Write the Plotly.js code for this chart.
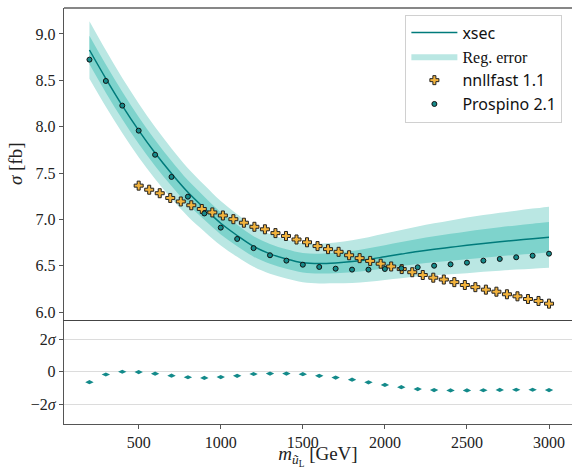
<!DOCTYPE html>
<html><head><meta charset="utf-8">
<script src="https://cdn.plot.ly/plotly-3.0.1.min.js"></script>
<style>html,body{margin:0;padding:0;background:#fff}#chart{width:572px;height:469px}</style>
</head><body><div id="chart"></div>
<script>
// mass grid (GeV) for xsec, band and Prospino
const massGrid = [200,300,400,500,600,700,800,900,1000,1100,1200,1300,1400,1500,1600,1700,1800,1900,2000,2100,2200,2300,2400,2500,2600,2700,2800,2900,3000];
// regression mean (fb)
const xsecMean = [8.827,8.519,8.228,7.960,7.716,7.495,7.292,7.120,6.958,6.826,6.708,6.628,6.572,6.532,6.523,6.530,6.545,6.568,6.597,6.626,6.654,6.678,6.699,6.720,6.740,6.759,6.776,6.792,6.807];
// regression 1-sigma error (fb)
const regSigma = [0.155,0.152,0.148,0.145,0.140,0.135,0.130,0.125,0.120,0.115,0.110,0.107,0.105,0.105,0.107,0.110,0.115,0.120,0.125,0.130,0.135,0.140,0.145,0.150,0.153,0.156,0.159,0.162,0.165];
// Prospino 2.1 (fb)
const prospinoXsec = [8.723,8.493,8.227,7.957,7.697,7.458,7.245,7.064,6.911,6.789,6.690,6.613,6.555,6.511,6.487,6.468,6.458,6.458,6.465,6.472,6.483,6.500,6.515,6.533,6.555,6.573,6.591,6.608,6.630];
// nnllfast 1.1
const nnllMass = [500,564.1,628.2,692.3,756.4,820.5,884.6,948.7,1012.8,1076.9,1141.0,1205.1,1269.2,1333.3,1397.4,1461.5,1525.6,1589.7,1653.8,1717.9,1782.1,1846.2,1910.3,1974.4,2038.5,2102.6,2166.7,2230.8,2294.9,2359.0,2423.1,2487.2,2551.3,2615.4,2679.5,2743.6,2807.7,2871.8,2935.9,3000];
const nnllXsec = [7.364,7.320,7.282,7.231,7.193,7.152,7.112,7.075,7.042,7.002,6.964,6.920,6.893,6.852,6.821,6.783,6.753,6.712,6.679,6.650,6.613,6.582,6.552,6.522,6.492,6.464,6.430,6.400,6.371,6.351,6.323,6.292,6.269,6.242,6.220,6.192,6.170,6.141,6.120,6.091];
// pull (Prospino - xsec) in units of sigma
const pullValues = [-0.64,-0.17,0.00,-0.02,-0.12,-0.24,-0.34,-0.38,-0.33,-0.25,-0.14,-0.11,-0.11,-0.15,-0.25,-0.36,-0.49,-0.65,-0.81,-0.95,-1.07,-1.13,-1.15,-1.15,-1.14,-1.12,-1.11,-1.11,-1.13];
const topTicks = [6.0,6.5,7.0,7.5,8.0,8.5,9.0];
const pullTicks = [-2,0,2];
const pullTickText = ['\u22122<i>\u03c3</i>','0','2<i>\u03c3</i>'];
const massTicks = [500,1000,1500,2000,2500,3000];

const lo2 = xsecMean.map((m,i)=>m-2*regSigma[i]);
const hi2 = xsecMean.map((m,i)=>m+2*regSigma[i]);
const lo1 = xsecMean.map((m,i)=>m-regSigma[i]);
const hi1 = xsecMean.map((m,i)=>m+regSigma[i]);

const LIGHT = '#bae7e3', DARK = '#7ed3cc', TEAL = '#007b7b';
const SERIF = 'Liberation Serif, serif';

const traces = [
  {x:massGrid,y:lo2,xaxis:'x2',yaxis:'y',mode:'lines',line:{width:0,shape:'spline'},showlegend:false,hoverinfo:'skip'},
  {x:massGrid,y:hi2,xaxis:'x2',yaxis:'y',mode:'lines',line:{width:0,shape:'spline'},fill:'tonexty',fillcolor:LIGHT,name:'<span style="font-family:Liberation Serif">Reg. error</span>',legendrank:2},
  {x:massGrid,y:lo1,xaxis:'x2',yaxis:'y',mode:'lines',line:{width:0,shape:'spline'},showlegend:false,hoverinfo:'skip'},
  {x:massGrid,y:hi1,xaxis:'x2',yaxis:'y',mode:'lines',line:{width:0,shape:'spline'},fill:'tonexty',fillcolor:DARK,showlegend:false},
  {x:massGrid,y:xsecMean,xaxis:'x2',yaxis:'y',mode:'lines',line:{color:TEAL,width:1.5,shape:'spline'},name:'xsec',legendrank:1},
  {x:nnllMass,y:nnllXsec,xaxis:'x2',yaxis:'y',mode:'markers',marker:{symbol:'cross',size:7.5,color:'#f2b33d',line:{color:'#222',width:1}},name:'nnllfast 1.1',legendrank:3},
  {x:massGrid,y:prospinoXsec,xaxis:'x2',yaxis:'y',mode:'markers',marker:{symbol:'circle',size:5,color:'#168a8a',line:{color:'#111',width:1}},name:'Prospino 2.1',legendrank:4},
  {x:massGrid,y:pullValues,xaxis:'x',yaxis:'y2',mode:'markers',marker:{symbol:'diamond-wide',size:6,color:'#138a8a'},showlegend:false}
];

const dom = 0.2512;
const layout = {
  width:572,height:469,
  margin:{l:64,r:0,t:8,b:45},
  paper_bgcolor:'#fff',plot_bgcolor:'#fff',
  font:{family:SERIF,size:16,color:'#222'},
  showlegend:true,
  legend:{x:0.672,y:0.984,xanchor:'left',yanchor:'top',bgcolor:'#fff',bordercolor:'#d0d0d0',borderwidth:1,itemwidth:46,
    font:{family:'Noto Sans, sans-serif',size:16,color:'#111'},traceorder:'normal',tracegroupgap:0},
  xaxis:{domain:[0,1],anchor:'y2',range:[45,3140],tickvals:massTicks,ticks:'outside',ticklen:4,tickcolor:'#555',
    showline:true,linecolor:'#555',linewidth:1.2,showgrid:false,zeroline:false,
    tickfont:{family:SERIF,size:16,color:'#222'},
    title:{text:'<i>m</i><sub><i>\u0169</i><sub>L</sub></sub> [GeV]',font:{family:SERIF,size:19,color:'#222'},standoff:6}},
  xaxis2:{domain:[0,1],anchor:'y',matches:'x',showticklabels:false,ticks:'',showline:true,linecolor:'#444',linewidth:1.5,showgrid:false,zeroline:false},
  yaxis:{domain:[dom,1],anchor:'x2',range:[5.92,9.28],tickvals:topTicks,tickformat:'.1f',ticks:'outside',ticklen:4,tickcolor:'#555',
    showline:true,linecolor:'#555',linewidth:1.2,showgrid:false,zeroline:false,tickfont:{family:SERIF,size:16,color:'#222'},
    title:{text:'<i>\u03c3</i> [fb]',font:{family:SERIF,size:19,color:'#222'},standoff:8}},
  yaxis2:{domain:[0,dom],anchor:'x',range:[-3.22,3.22],tickvals:pullTicks,ticktext:pullTickText,ticks:'outside',ticklen:4,tickcolor:'#555',
    showline:true,linecolor:'#555',linewidth:1.2,showgrid:true,gridcolor:'#dcdcdc',gridwidth:1,zeroline:false,tickfont:{family:SERIF,size:16,color:'#222'}},
  shapes:[{type:'line',xref:'paper',yref:'paper',x0:0,x1:1,y0:1,y1:1,line:{color:'#111',width:1.2}}]
};
Plotly.newPlot('chart',traces,layout,{staticPlot:true,displayModeBar:false});
</script>
</body></html>
